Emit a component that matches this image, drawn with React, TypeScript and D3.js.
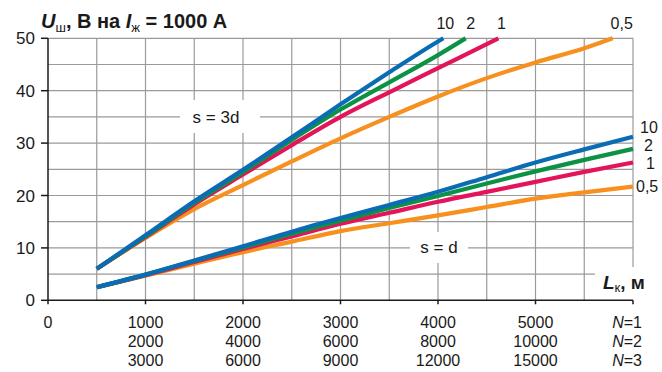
import React from "react";
import * as d3 from "d3";

// s = d group, all series share the same lengths
const lenD = [500, 1000, 1500, 2000, 2500, 3000, 3500, 4000, 4500, 5000, 5500, 6000];
const dBlue = [2.5, 4.9, 7.6, 10.3, 13.1, 15.7, 18.2, 20.7, 23.5, 26.3, 28.8, 31.2];
const dGreen = [2.5, 4.9, 7.5, 10.1, 12.7, 15.2, 17.6, 19.9, 22.3, 24.6, 26.8, 28.9];
const dRed = [2.5, 4.8, 7.3, 9.8, 12.2, 14.6, 16.7, 18.8, 20.7, 22.6, 24.5, 26.3];
const dOrange = [2.5, 4.7, 7.0, 9.2, 11.2, 13.2, 14.7, 16.2, 17.8, 19.4, 20.6, 21.7];

// s = 3d group, each series stops at 50 V
const len3Blue = [500, 1000, 1500, 2000, 2500, 3000, 3500, 4000, 4055];
const u3Blue = [6, 12.4, 18.9, 24.9, 31.1, 37.4, 43.5, 49.4, 50];
const len3Green = [500, 1000, 1500, 2000, 2500, 3000, 3500, 4000, 4284];
const u3Green = [6, 12.2, 18.6, 24.5, 30.6, 36.4, 41.6, 46.8, 50];
const len3Red = [500, 1000, 1500, 2000, 2500, 3000, 3500, 4000, 4500, 4619];
const u3Red = [6, 12.1, 18.3, 24.0, 29.6, 35.0, 39.7, 44.3, 48.9, 50];
const len3Orange = [500, 1000, 1500, 2000, 2500, 3000, 3500, 4000, 4500, 5000, 5500, 5792];
const u3Orange = [6, 11.9, 17.4, 22.0, 26.5, 30.9, 35.0, 38.9, 42.4, 45.4, 48.1, 50];

const seriesNames = ["0,5", "1", "2", "10"];
const colors = ["#f7901e", "#e4145a", "#0c9245", "#0a6cb4"];

const rowN1 = [0, 1000, 2000, 3000, 4000, 5000];
const rowN2 = [2000, 4000, 6000, 8000, 10000];
const rowN3 = [3000, 6000, 9000, 12000, 15000];
const yTicks = [0, 10, 20, 30, 40, 50];

const W = 662;
const H = 372;
const font = "'Liberation Sans', Arial, sans-serif";

export default function App() {
  const x = d3.scaleLinear().domain([0, 6000]).range([48, 633]);
  const y = d3.scaleLinear().domain([0, 50]).range([300.3, 38.3]);
  const path = d3
    .line<[number, number]>()
    .x((d) => x(d[0]))
    .y((d) => y(d[1]))
    .curve(d3.curveMonotoneX);

  const zip = (a: number[], b: number[]) => a.map((v, i) => [v, b[i]] as [number, number]);
  const dGroup = [dOrange, dRed, dGreen, dBlue].map((u) => zip(lenD, u));
  const upGroup = [
    zip(len3Orange, u3Orange),
    zip(len3Red, u3Red),
    zip(len3Green, u3Green),
    zip(len3Blue, u3Blue),
  ];

  const vGrid = d3.range(500, 6001, 500);
  const hGrid = d3.range(5, 51, 5);

  // label offsets for the ends of the curves
  const topDx = [9, 3, 5, 2];
  const rightX = [636, 646, 644, 640];
  const rightDy = [5, 7, 2, -4];

  return (
    <svg
      width={W}
      height={H}
      style={{ position: "fixed", left: 0, top: 0, background: "#fff" }}
      fontFamily={font}
    >
      <rect width={W} height={H} fill="#fff" />
      {/* grid */}
      <g stroke="#9a9a9a" strokeWidth={1.2}>
        {vGrid.map((v) => (
          <line key={"v" + v} x1={x(v)} x2={x(v)} y1={y(50)} y2={v === 6000 ? 267 : y(0)} />
        ))}
        {hGrid.map((v) => (
          <line key={"h" + v} x1={x(0)} x2={v === 5 ? 595 : x(6000)} y1={y(v)} y2={y(v)} />
        ))}
      </g>
      {/* label boxes */}
      <rect x={180} y={100} width={80} height={33} fill="#fff" />
      <rect x={410} y={232} width={58} height={31} fill="#fff" />
      {/* curves */}
      <g fill="none" strokeWidth={4.2} strokeLinecap="butt">
        {dGroup.map((s, i) => (
          <path key={"d" + i} d={path(s) || ""} stroke={colors[i]} />
        ))}
        {upGroup.map((s, i) => (
          <path key={"u" + i} d={path(s) || ""} stroke={colors[i]} />
        ))}
      </g>
      {/* axes */}
      <g stroke="#1a1a1a" strokeWidth={1.5}>
        <line x1={x(0)} x2={x(0)} y1={y(50)} y2={y(0)} />
        <line x1={x(0)} x2={x(6000)} y1={y(0)} y2={y(0)} />
        {yTicks.map((t) => (
          <line key={"yt" + t} x1={x(0) - 7} x2={x(0)} y1={y(t)} y2={y(t)} />
        ))}
        {rowN1.concat([6000]).map((t) => (
          <line key={"xt" + t} x1={x(t)} x2={x(t)} y1={y(0)} y2={y(0) + 4} />
        ))}
      </g>
      <g fill="#1a1a1a" fontSize={17}>
        {yTicks.map((t) => (
          <text key={"yl" + t} x={35} y={y(t) + 6} textAnchor="end">
            {t}
          </text>
        ))}
      </g>
      <g fill="#1a1a1a" fontSize={16} textAnchor="middle">
        {rowN1.map((t) => (
          <text key={"r1" + t} x={x(t)} y={328}>
            {t}
          </text>
        ))}
        {rowN2.map((t, i) => (
          <text key={"r2" + t} x={x(rowN1[i + 1])} y={347}>
            {t}
          </text>
        ))}
        {rowN3.map((t, i) => (
          <text key={"r3" + t} x={x(rowN1[i + 1])} y={366}>
            {t}
          </text>
        ))}
        {[1, 2, 3].map((n, i) => (
          <text key={"n" + n} x={642} y={328 + i * 19} textAnchor="end">
            <tspan fontStyle="italic">N</tspan>={n}
          </text>
        ))}
      </g>
      {/* curve labels */}
      <g fill="#1a1a1a" fontSize={16}>
        {upGroup.map((s, i) => (
          <text key={"tl" + i} x={x(s[s.length - 1][0]) + topDx[i]} y={29} textAnchor="middle">
            {seriesNames[i]}
          </text>
        ))}
        {dGroup.map((s, i) => (
          <text key={"rl" + i} x={rightX[i]} y={y(s[s.length - 1][1]) + rightDy[i]}>
            {seriesNames[i]}
          </text>
        ))}
        <text x={216} y={123} textAnchor="middle" fontSize={17}>
          s = 3d
        </text>
        <text x={439} y={253} textAnchor="middle" fontSize={17}>
          s = d
        </text>
      </g>
      {/* titles */}
      <text x={41} y={28} fontSize={20} fontWeight="bold" fill="#1a1a1a">
        <tspan fontStyle="italic">U</tspan>
        <tspan fontSize={13} dy={4} fontWeight="normal">ш</tspan>
        <tspan dy={-4}>, В на </tspan>
        <tspan fontStyle="italic">I</tspan>
        <tspan fontSize={13} dy={4} fontWeight="normal">ж</tspan>
        <tspan dy={-4}> = 1000 А</tspan>
      </text>
      <rect x={596} y={268} width={66} height={30} fill="#fff" />
      <text x={603} y={289} fontSize={19} fontWeight="bold" fill="#1a1a1a">
        <tspan fontStyle="italic">L</tspan>
        <tspan fontSize={13} dy={3} fontWeight="normal">к</tspan>
        <tspan dy={-3}>, м</tspan>
      </text>
    </svg>
  );
}
